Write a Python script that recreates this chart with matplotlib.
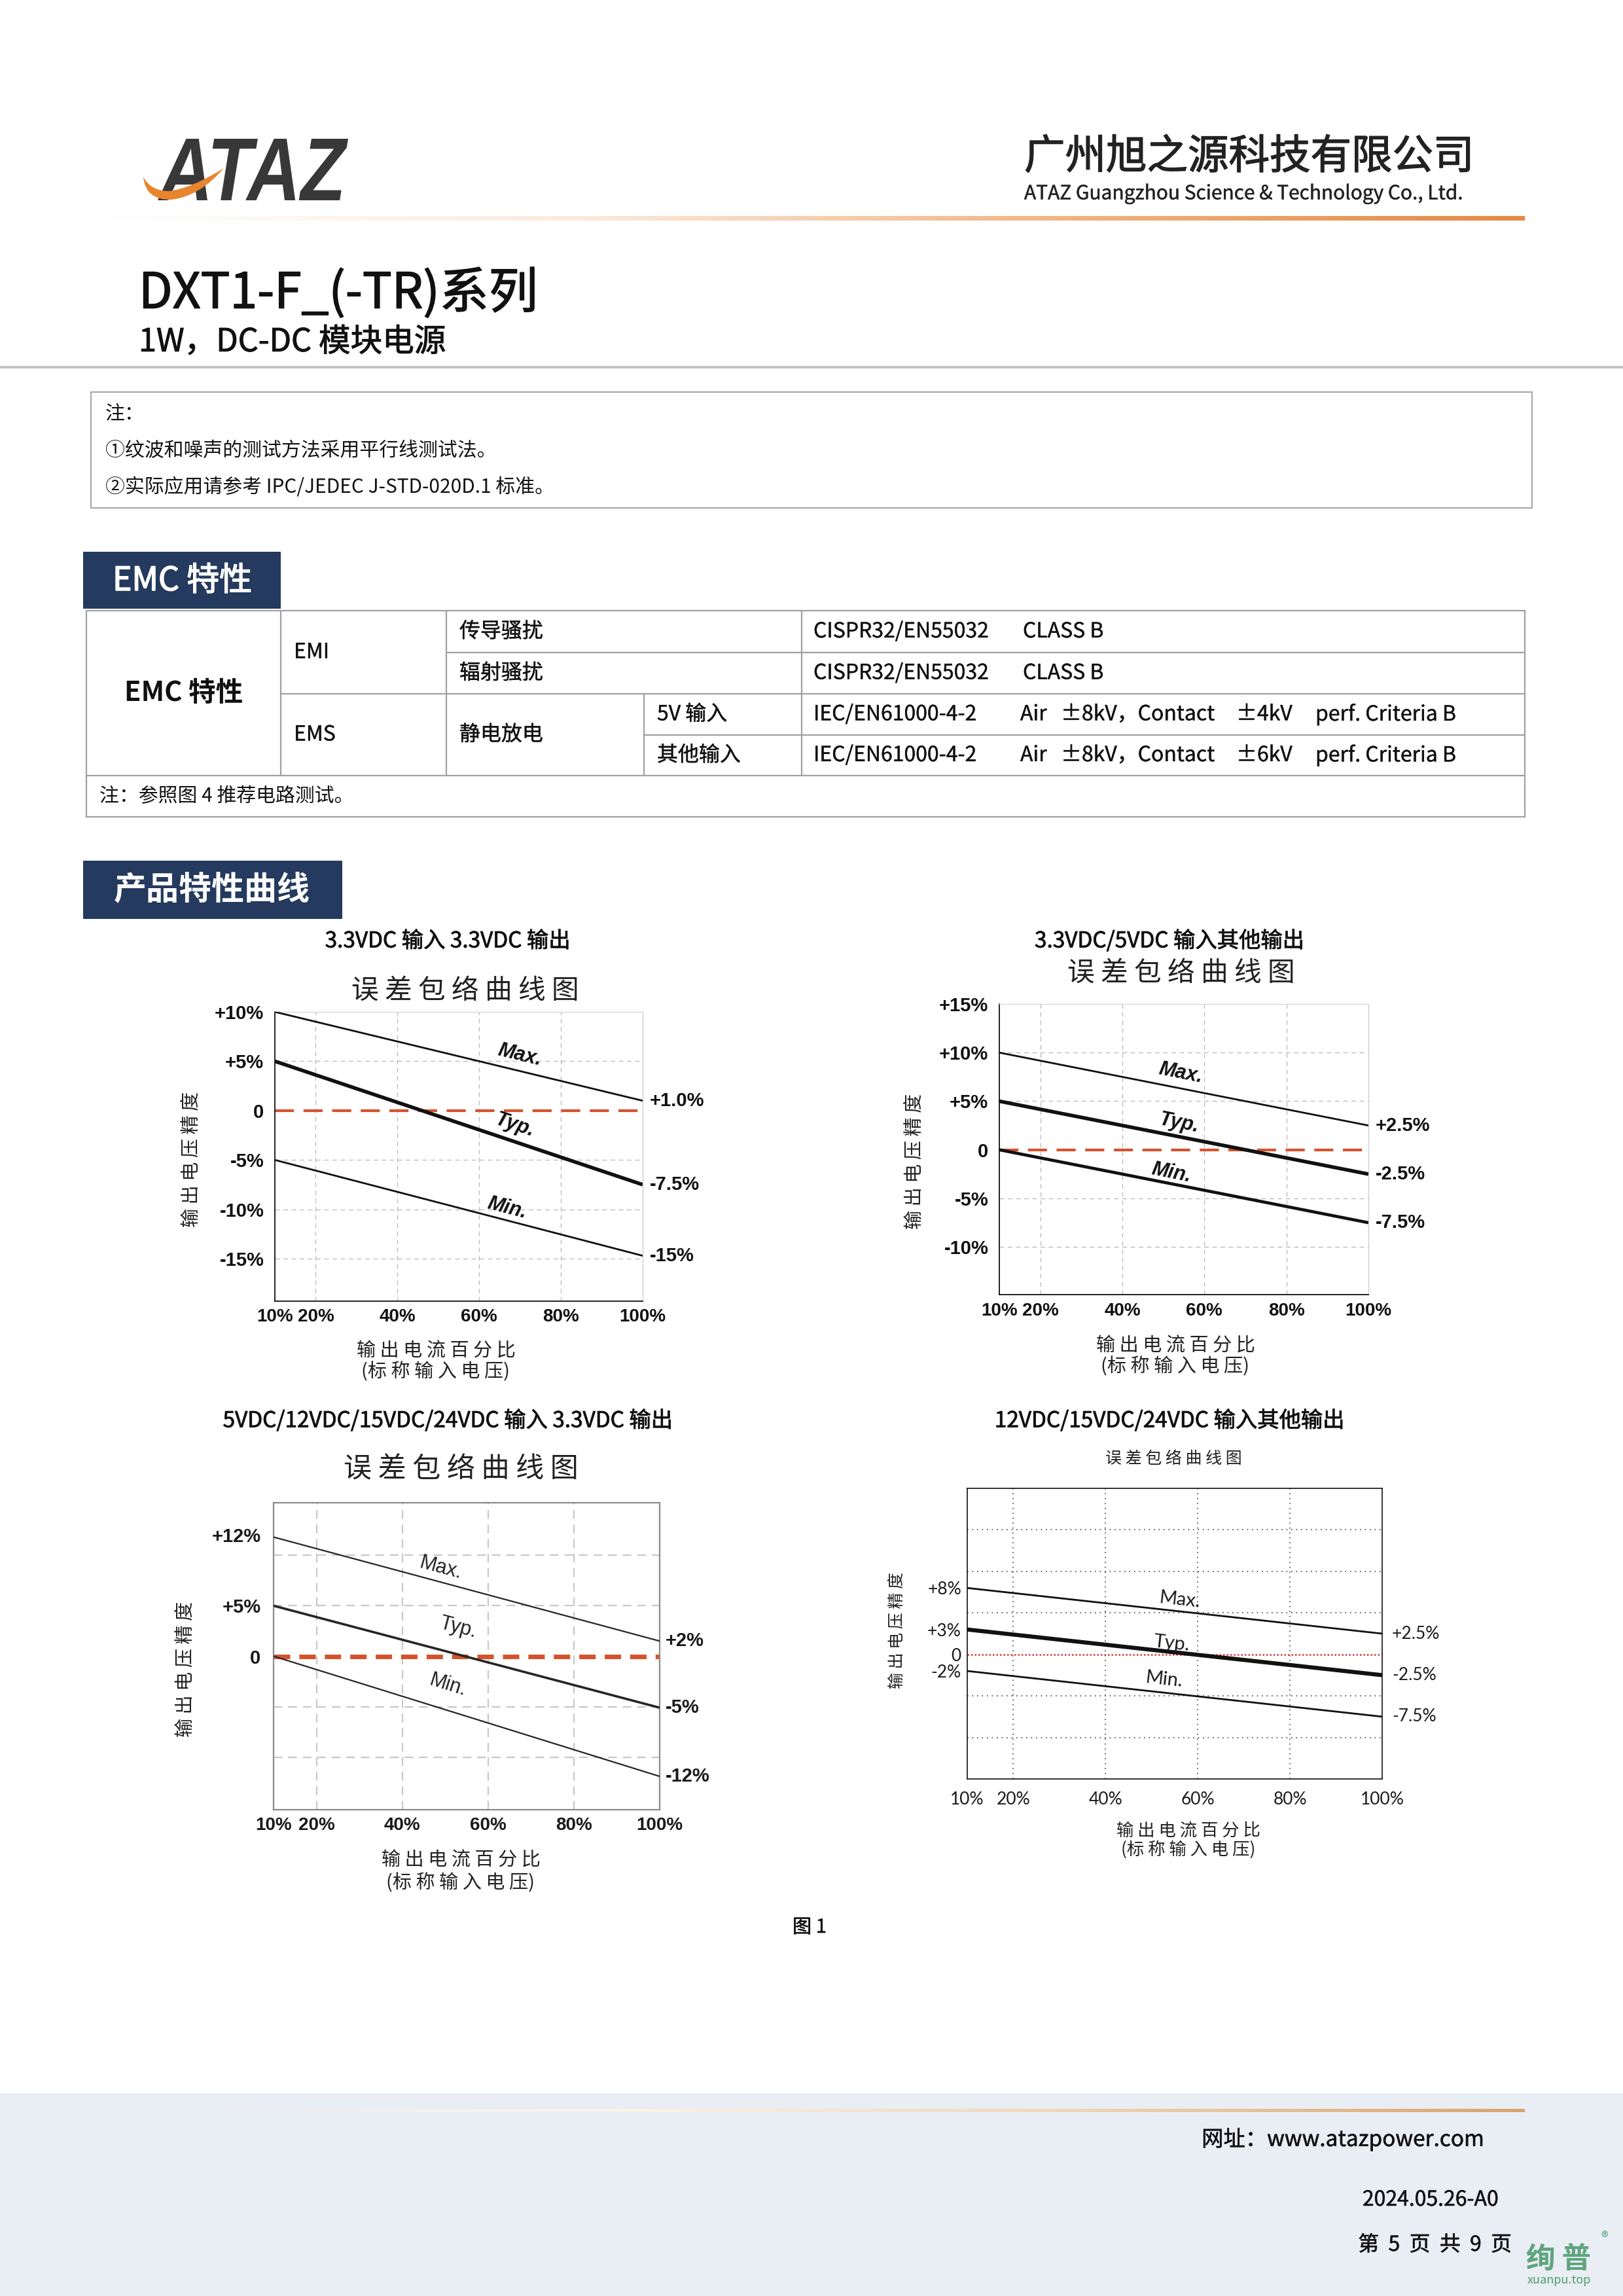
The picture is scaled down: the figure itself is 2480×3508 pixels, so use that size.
import numpy as np
import matplotlib
matplotlib.use('Agg')
import matplotlib.pyplot as plt
import matplotlib.patheffects as pe
from matplotlib.patches import Rectangle, PathPatch
from matplotlib.path import Path
from matplotlib.textpath import TextPath
from matplotlib.font_manager import FontProperties
from matplotlib.transforms import Affine2D
from matplotlib.colors import LinearSegmentedColormap

CJK = ['Noto Sans CJK SC', 'DejaVu Sans']
plt.rcParams['font.family'] = CJK

# ---------------- data ----------------
company_cn = '广州旭之源科技有限公司'
company_en = 'ATAZ Guangzhou Science & Technology Co., Ltd.'
series_title = 'DXT1-F_(-TR)系列'
series_sub = '1W，DC-DC 模块电源'
notes = ['注：', '①纹波和噪声的测试方法采用平行线测试法。',
         '②实际应用请参考 IPC/JEDEC J-STD-020D.1 标准。']
emc_header = 'EMC 特性'
curve_header = '产品特性曲线'
emc_group = 'EMC 特性'
emc_types = ['EMI', 'EMS']
emc_items = ['传导骚扰', '辐射骚扰', '静电放电']
emc_inputs = ['5V 输入', '其他输入']
emi_std = ['CISPR32/EN55032', 'CLASS B']
ems_std = [['IEC/EN61000-4-2', 'Air', '±8kV，Contact', '±4kV', 'perf. Criteria B'],
           ['IEC/EN61000-4-2', 'Air', '±8kV，Contact', '±6kV', 'perf. Criteria B']]
emc_note = '注：参照图 4 推荐电路测试。'
fig_caption = '图 1'
footer_url = '网址：www.atazpower.com'
footer_ver = '2024.05.26-A0'
footer_page = '第  5  页  共  9  页'

chart_sub = '误 差 包 络 曲 线 图'
y_axis_label = '输 出 电 压 精 度'
x_axis_label = '输 出 电 流 百 分 比'
x_axis_label2 = '(标 称 输 入 电 压)'

load_pct = [10, 100]
x_ticks = [10, 20, 40, 60, 80, 100]
x_tick_labels = ['10%', '20%', '40%', '60%', '80%', '100%']
v_grid = [20, 40, 60, 80]
curve_names = ['Max.', 'Typ.', 'Min.']

c1_title = '3.3VDC 输入 3.3VDC 输出'
c1_max = [10.0, 1.0]
c1_typ = [5.0, -7.5]
c1_min = [-5.0, -14.7]
c1_yticks = [10, 5, 0, -5, -10, -15]
c1_ytick_labels = ['+10%', '+5%', '0', '-5%', '-10%', '-15%']
c1_end_labels = ['+1.0%', '-7.5%', '-15%']
c1_hgrid = [5, -5, -10, -15]

c2_title = '3.3VDC/5VDC 输入其他输出'
c2_max = [10.0, 2.5]
c2_typ = [5.0, -2.5]
c2_min = [0.0, -7.5]
c2_yticks = [15, 10, 5, 0, -5, -10]
c2_ytick_labels = ['+15%', '+10%', '+5%', '0', '-5%', '-10%']
c2_end_labels = ['+2.5%', '-2.5%', '-7.5%']
c2_hgrid = [10, 5, -5, -10]

c3_title = '5VDC/12VDC/15VDC/24VDC 输入 3.3VDC 输出'
c3_max = [11.8, 1.5]
c3_typ = [5.0, -5.1]
c3_min = [0.0, -11.9]
c3_yticks = [12, 5, 0]
c3_ytick_labels = ['+12%', '+5%', '0']
c3_end_labels = ['+2%', '-5%', '-12%']
c3_hgrid = [10, 5, -5, -10]

c4_title = '12VDC/15VDC/24VDC 输入其他输出'
c4_max = [8.0, 2.5]
c4_typ = [3.0, -2.5]
c4_min = [-2.0, -7.5]
c4_yticks = [8, 3, 0, -2]
c4_ytick_labels = ['+8%', '+3%', '0', '-2%']
c4_end_labels = ['+2.5%', '-2.5%', '-7.5%']
c4_hgrid = [15, 10, 5, -5, -10]

# ---------------- page ----------------
W, H = 2480, 3508
fig = plt.figure(figsize=(W / 100, H / 100), dpi=100)
page = fig.add_axes([0, 0, 1, 1])
page.axis('off')


def medium(color, w=0.9):
    return [pe.withStroke(linewidth=w, foreground=color)]


def hgrad(x0, x1, y0, y1, colors):
    cmap = LinearSegmentedColormap.from_list('g', colors)
    grad = np.linspace(0, 1, 512)[None, :]
    page.imshow(grad, extent=(x0, x1, y1, y0), cmap=cmap, aspect='auto',
                interpolation='bilinear', zorder=2)


# footer background
page.add_patch(Rectangle((0, 3198), W, H - 3198, facecolor='#E9EDF4', lw=0, zorder=0))

# logo
tp = TextPath((0, 0), 'ATAZ', size=1,
              prop=FontProperties(family='Liberation Sans', weight='bold', style='italic'))
bb = tp.get_extents()
tr = Affine2D().translate(-bb.x0, -bb.y0).scale(291 / bb.width, -94 / bb.height).translate(241, 306)
page.add_patch(PathPatch(tr.transform_path(tp), facecolor='#383838', lw=0, zorder=3))
sw_verts = [(219, 270), (222, 306), (262, 305), (305, 300), (342, 257),
            (292, 288), (258, 292), (230, 292), (219, 270), (219, 270)]
sw_codes = [Path.MOVETO, Path.CURVE3, Path.CURVE3, Path.CURVE3, Path.CURVE3,
            Path.CURVE3, Path.CURVE3, Path.CURVE3, Path.CURVE3, Path.CLOSEPOLY]
page.add_patch(PathPatch(Path(sw_verts, sw_codes), facecolor='#E8852E', lw=0, zorder=4))

page.text(1565, 240, company_cn, fontsize=45, color='#222222',
          ha='left', va='center', path_effects=medium('#222222', 1.0))
page.text(1565, 296, company_en, fontsize=21.5, color='#222222', ha='left', va='center',
          path_effects=medium('#222222', 0.3))
hgrad(156, 2330, 330, 337, ['#FFFFFF', '#FBEBDD', '#F2B584', '#E58944'])

page.text(212, 449, series_title, fontsize=54, color='#111111',
          ha='left', va='center', path_effects=medium('#111111', 1.1))
page.text(212, 523, series_sub, fontsize=35, color='#111111', ha='left', va='center',
          path_effects=medium('#111111', 0.7))
page.plot([0, W], [561, 561], color='#C4C4C4', lw=3, solid_capstyle='butt')

# notes box
page.add_patch(Rectangle((139, 599), 2341 - 139, 776 - 599, fill=False,
                         edgecolor='#A8A8A8', lw=1.6))
for txt, y in zip(notes, [633, 689, 745]):
    page.text(161, y, txt, fontsize=21.5, color='#111111', ha='left', va='center')

# section headers
NAVY = '#243A5E'
page.add_patch(Rectangle((127, 843), 429 - 127, 930 - 843, facecolor=NAVY, lw=0))
page.text(172, 888, emc_header, fontsize=36, color='white',
          ha='left', va='center', path_effects=medium('white', 1.1))
page.add_patch(Rectangle((127, 1315), 523 - 127, 1404 - 1315, facecolor=NAVY, lw=0))
page.text(174, 1360, curve_header, fontsize=36, fontweight='bold', color='white',
          ha='left', va='center')

# EMC table
X0, X1, X2, X3, X4, X5 = 132, 429, 682, 984, 1225, 2330
Y0, Y1, Y2, Y3, Y4, Y5 = 933, 997, 1060, 1123, 1185, 1248
TL = dict(color='#A0A0A0', lw=1.6, solid_capstyle='butt')
page.add_patch(Rectangle((X0, Y0), X5 - X0, Y5 - Y0, fill=False, edgecolor='#A0A0A0', lw=1.6))
page.plot([X2, X5], [Y1, Y1], **TL)
page.plot([X1, X5], [Y2, Y2], **TL)
page.plot([X3, X5], [Y3, Y3], **TL)
page.plot([X0, X5], [Y4, Y4], **TL)
page.plot([X1, X1], [Y0, Y4], **TL)
page.plot([X2, X2], [Y0, Y4], **TL)
page.plot([X3, X3], [Y2, Y4], **TL)
page.plot([X4, X4], [Y0, Y4], **TL)
TF = dict(fontsize=23, color='#111111', va='center', path_effects=medium('#111111', 0.25))
page.text((X0 + X1) / 2, (Y0 + Y4) / 2, emc_group, fontsize=30, fontweight='bold',
          color='#111111', ha='center', va='center')
page.text(449, (Y0 + Y2) / 2, emc_types[0], ha='left', **TF)
page.text(449, (Y2 + Y4) / 2, emc_types[1], ha='left', **TF)
page.text(702, (Y0 + Y1) / 2, emc_items[0], ha='left', **TF)
page.text(702, (Y1 + Y2) / 2, emc_items[1], ha='left', **TF)
page.text(702, (Y2 + Y4) / 2, emc_items[2], ha='left', **TF)
page.text(1004, (Y2 + Y3) / 2, emc_inputs[0], ha='left', **TF)
page.text(1004, (Y3 + Y4) / 2, emc_inputs[1], ha='left', **TF)
for yc in [(Y0 + Y1) / 2, (Y1 + Y2) / 2]:
    page.text(1243, yc, emi_std[0], ha='left', **TF)
    page.text(1563, yc, emi_std[1], ha='left', **TF)
for parts, yc in zip(ems_std, [(Y2 + Y3) / 2, (Y3 + Y4) / 2]):
    for p, xx in zip(parts, [1243, 1559, 1621, 1889, 2010]):
        page.text(xx, yc, p, ha='left', **TF)
page.text(152, (Y4 + Y5) / 2, emc_note, ha='left', fontsize=21.5, color='#111111', va='center')

# ---------------- charts ----------------


def add_chart(box, ylim, yticks, ylabels, hgrid, curves, lws, end_labels, name_pos, st):
    l, t, r, b = box
    ax = fig.add_axes([l / W, 1 - b / H, (r - l) / W, (b - t) / H])
    ax.patch.set_facecolor('none')
    ax.set_xlim(10, 100)
    ax.set_ylim(*ylim)
    for g in v_grid:
        ax.axvline(g, **st['grid'], zorder=1)
    for g in hgrid:
        ax.axhline(g, **st['grid'], zorder=1)
    ax.plot(load_pct, [0, 0], zorder=2, **st['zero'])
    for vals, lw in zip(curves, lws):
        ax.plot(load_pct, vals, color=st['lc'], lw=lw, solid_capstyle='butt', zorder=3)
    ax.set_xticks(x_ticks)
    ax.set_xticklabels(x_tick_labels, **st['xtick'])
    ax.set_yticks(yticks)
    ax.set_yticklabels(ylabels, **st['tick'])
    ax.tick_params(axis='both', length=0)
    ax.tick_params(axis='x', pad=st['xpad'])
    ax.tick_params(axis='y', pad=st['ypad'])
    for side, (c, w) in st['spines'].items():
        ax.spines[side].set_color(c)
        ax.spines[side].set_linewidth(w)
    for vals, lab in zip(curves, end_labels):
        ax.annotate(lab, xy=(100, vals[1]), xytext=(st['endpad'], 0),
                    textcoords='offset pixels', ha='left', va='center',
                    annotation_clip=False, **st['tick'])
    for vals, name, (nx, ny) in zip(curves, curve_names, name_pos):
        p0 = ax.transData.transform((load_pct[0], vals[0]))
        p1 = ax.transData.transform((load_pct[1], vals[1]))
        ang = np.degrees(np.arctan2(p1[1] - p0[1], p1[0] - p0[0]))
        ax.text(nx, ny, name, rotation=ang, rotation_mode='anchor', ha='center',
                va='center', zorder=5, **st['name'])
    return ax


def titles(cx, ty, title, sx, sy, ssize, ylx, yly, ysize, xlx, xly1, xly2, xsize):
    page.text(cx, ty, title, fontsize=24, color='#111111',
              ha='center', va='center', path_effects=medium('#111111', 0.6))
    page.text(sx, sy, chart_sub, fontsize=ssize, color='#222222', ha='center', va='center')
    page.text(ylx, yly, y_axis_label, fontsize=ysize, color='#222222', rotation=90,
              ha='center', va='center')
    page.text(xlx, xly1, x_axis_label, fontsize=xsize, color='#222222', ha='center', va='center')
    page.text(xlx, xly2, x_axis_label2, fontsize=xsize, color='#222222', ha='center', va='center')


RED = '#D4532C'
st1 = dict(grid=dict(color='#BDBDBD', lw=1, linestyle=(0, (5, 4))),
           zero=dict(color=RED, lw=3, linestyle=(0, (7, 3.5))),
           lc='#111111',
           tick=dict(family='Liberation Sans', fontweight='bold', fontsize=21, color='#111111'),
           xtick=dict(family='Liberation Sans', fontweight='bold', fontsize=20, color='#111111'),
           name=dict(family='Liberation Sans', fontweight='bold', fontstyle='italic',
                     fontsize=22, color='#111111'),
           xpad=8, ypad=12, endpad=11,
           spines={'left': ('#111111', 1.3), 'bottom': ('#111111', 1.3),
                   'top': ('#DADADA', 1.0), 'right': ('#CFCFCF', 1.0)})
st2 = dict(st1)
st2['xpad'] = 9
st3 = dict(grid=dict(color='#C8C8C8', lw=1.6, linestyle=(0, (6, 4))),
           zero=dict(color=RED, lw=5, linestyle=(0, (3.6, 2.0))),
           lc='#262626',
           tick=dict(family='Liberation Sans', fontweight='bold', fontsize=21, color='#1A1A1A'),
           xtick=dict(family='Liberation Sans', fontweight='bold', fontsize=20, color='#1A1A1A'),
           name=dict(family='Liberation Sans', fontsize=22, color='#222222'),
           xpad=8, ypad=14, endpad=9,
           spines={s: ('#8A8A8A', 1.6) for s in ['left', 'bottom', 'top', 'right']})
st4 = dict(grid=dict(color='#444444', lw=1.2, linestyle=(0, (1, 3.5))),
           zero=dict(color='#D63A2F', lw=1.8, linestyle=(0, (1, 1.2))),
           lc='#111111',
           tick=dict(family='Lato', fontsize=19, color='#1A1A1A'),
           xtick=dict(family='Lato', fontsize=19, color='#1A1A1A'),
           name=dict(family='Lato', fontsize=21, color='#1A1A1A'),
           xpad=14, ypad=6.5, endpad=15,
           spines={s: ('#111111', 1.2) for s in ['left', 'bottom', 'top', 'right']})

# chart 1
add_chart((420, 1546, 982, 1988), (-19.3, 10), c1_yticks, c1_ytick_labels, c1_hgrid,
          [c1_max, c1_typ, c1_min], [2.0, 4.0, 2.0], c1_end_labels,
          [(70, 5.6), (68.8, -1.5), (66.9, -9.9)], st1)
titles(684, 1438, c1_title, 711, 1514, 30, 293, 1771, 21, 666, 2064, 2096, 21)

# chart 2
add_chart((1527, 1534, 2091, 1978), (-14.9, 15), c2_yticks, c2_ytick_labels, c2_hgrid,
          [c2_max, c2_typ, c2_min], [2.0, 4.0, 3.4], c2_end_labels,
          [(54.3, 7.9), (53.9, 2.7), (52, -2.4)], st2)
titles(1787, 1438, c2_title, 1805, 1487, 30, 1398, 1774, 21, 1796, 2056, 2088, 21)

# chart 3
add_chart((418, 2296, 1008, 2765), (-15.2, 15.2), c3_yticks, c3_ytick_labels, c3_hgrid,
          [c3_max, c3_typ, c3_min], [1.6, 2.6, 1.6], c3_end_labels,
          [(48.9, 8.7), (53, 2.8), (50.6, -2.9)], st3)
titles(684, 2171, c3_title, 704, 2245, 31, 284, 2550, 21, 704, 2842, 2877, 21)

# chart 4
add_chart((1478, 2274, 2112, 2718), (-15, 20), c4_yticks, c4_ytick_labels, c4_hgrid,
          [c4_max, c4_typ, c4_min], [2.0, 4.5, 2.0], c4_end_labels,
          [(56, 6.6), (54.4, 1.3), (52.7, -3.0)], st4)
titles(1787, 2171, c4_title, 1793, 2229, 18, 1371, 2491, 18, 1816, 2797, 2826, 19)

page.text(1237, 2945, fig_caption, fontsize=21, color='#111111', ha='center', va='center',
          path_effects=medium('#111111', 0.4))

# footer
hgrad(246, 2330, 3222, 3227, ['#E9EDF4', '#FBF3EA', '#F1D5B6', '#D9A36E'])
FT = dict(fontsize=23, color='#111111', ha='right', va='center', path_effects=medium('#111111', 0.35))
page.text(2268, 3269, footer_url, fontsize=24, color='#111111', ha='right', va='center',
          path_effects=medium('#111111', 0.35))
page.text(2290, 3361, footer_ver, **FT)
page.text(2310, 3430, footer_page, **FT)
page.text(2382, 3452, '绚 普', fontsize=32, fontweight='bold', color='#4F9E70',
          ha='center', va='center', alpha=0.9)
page.text(2452, 3420, '®', fontsize=16, color='#4F9E70', ha='center', va='center')
page.text(2382, 3484, 'xuanpu.top', fontsize=13, color='#4F9E70', ha='center', va='center')

page.set_xlim(0, W)
page.set_ylim(H, 0)
fig.savefig('out.png', dpi=100)
